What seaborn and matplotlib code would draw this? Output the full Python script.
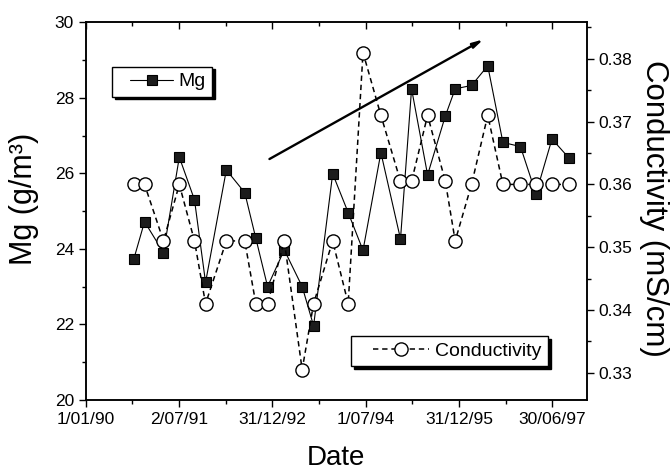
import matplotlib
matplotlib.use("Agg")

import matplotlib.pyplot as plt
import matplotlib.dates as mdates
from matplotlib.legend_handler import HandlerLine2D
from matplotlib.ticker import MultipleLocator, FormatStrFormatter
import pandas as pd
import seaborn as sns

# ── data ────────────────────────────────────────────────────
dates = ["1990-10-10", "1990-12-12", "1991-04-02", "1991-07-04", "1991-10-01",
         "1991-12-05", "1992-04-05", "1992-07-22", "1992-09-25", "1992-12-03",
         "1993-03-11", "1993-06-24", "1993-08-30", "1993-12-20", "1994-03-21",
         "1994-06-16", "1994-09-29", "1995-01-22", "1995-03-28", "1995-06-30",
         "1995-10-12", "1995-12-09", "1996-03-14", "1996-06-17", "1996-09-14",
         "1996-12-26", "1997-03-27", "1997-06-29", "1997-10-08"]

mg = [23.73, 24.72, 23.90, 26.43, 25.30, 23.11, 26.09, 25.49, 24.28, 23.00,
      23.97, 23.00, 21.96, 25.99, 24.96, 23.96, 26.55, 24.26, 28.24, 25.96,
      27.52, 28.24, 28.33, 28.85, 26.82, 26.71, 25.46, 26.91, 26.40]

cond = [0.360, 0.360, 0.351, 0.360, 0.351, 0.341, 0.351, 0.351, 0.341, 0.341,
        0.351, 0.3305, 0.341, 0.351, 0.341, 0.381, 0.371, 0.3605, 0.3605, 0.371,
        0.3605, 0.351, 0.360, 0.371, 0.360, 0.360, 0.360, 0.360, 0.360]

tick_dates = ["1990-01-01", "1991-07-02", "1992-12-31", "1994-07-01",
              "1995-12-31", "1997-06-30"]
tick_labels = ["1/01/90", "2/07/91", "31/12/92", "1/07/94", "31/12/95", "30/06/97"]

trend_start = ("1992-12-14", 26.38)
trend_end = ("1996-05-23", 29.55)

# ── style ───────────────────────────────────────────────────
sns.set_style("ticks")
plt.rcParams["font.family"] = ["Liberation Sans", "DejaVu Sans"]
plt.rcParams.update({
    "text.color": "black", "axes.labelcolor": "black",
    "xtick.color": "black", "ytick.color": "black",
    "axes.edgecolor": "black", "axes.linewidth": 1.1,
})

df = pd.DataFrame({"date": pd.to_datetime(dates), "mg": mg, "cond": cond})

fig = plt.figure(figsize=(6.7, 4.72), dpi=100)
ax = fig.add_axes([0.128, 0.153, 0.748, 0.7995])
ax2 = ax.twinx()

sns.lineplot(data=df, x="date", y="mg", ax=ax, color="k", lw=0.8,
             marker="s", markersize=7.3, markerfacecolor="#1c1c1c",
             markeredgecolor="k", markeredgewidth=0.8, label="Mg", legend=False)
sns.lineplot(data=df, x="date", y="cond", ax=ax2, color="k", lw=1.1,
             linestyle=(0, (3.5, 2.5)), marker="o", markersize=9.5,
             markerfacecolor="white", markeredgecolor="k", markeredgewidth=1.0,
             label="Conductivity", legend=False)

# trend arrow
ax.annotate("", xy=(mdates.date2num(pd.Timestamp(trend_end[0])), trend_end[1]),
            xytext=(mdates.date2num(pd.Timestamp(trend_start[0])), trend_start[1]),
            arrowprops=dict(arrowstyle="-|>,head_length=0.6,head_width=0.15",
                            color="k", lw=1.7, shrinkA=0, shrinkB=0))

# x axis
ax.set_xlim(pd.Timestamp("1990-01-01"), pd.Timestamp("1998-01-20"))
majors = pd.to_datetime(tick_dates)
minors = majors[:-1] + (majors[1:] - majors[:-1]) / 2
ax.set_xticks(majors)
ax.set_xticklabels(tick_labels)
ax.set_xticks(minors, minor=True)
ax.tick_params(axis="x", which="both", top=False, direction="out", labelsize=12.5)
ax.tick_params(axis="x", which="major", length=5, width=1)
ax.tick_params(axis="x", which="minor", length=3, width=1)

ax2.xaxis.set_visible(True)
ax2.set_xlabel("")
ax2.tick_params(axis="x", which="both", bottom=False, top=True,
                labelbottom=False, labeltop=False, direction="in", width=1)
ax2.tick_params(axis="x", which="major", length=5)
ax2.tick_params(axis="x", which="minor", length=3)

# y axes
ax.set_ylim(20, 30)
ax.yaxis.set_major_locator(MultipleLocator(2))
ax.yaxis.set_minor_locator(MultipleLocator(1))
ax.tick_params(axis="y", which="both", direction="out", labelsize=12.5, width=1)
ax.tick_params(axis="y", which="major", length=5)
ax.tick_params(axis="y", which="minor", length=3)

ax2.set_ylim(0.3257, 0.3858)
ax2.yaxis.set_major_locator(MultipleLocator(0.01))
ax2.yaxis.set_minor_locator(MultipleLocator(0.005))
ax2.yaxis.set_major_formatter(FormatStrFormatter("%.2f"))
ax2.tick_params(axis="y", which="both", direction="out", labelsize=12.5, width=1)
ax2.tick_params(axis="y", which="major", length=5)
ax2.tick_params(axis="y", which="minor", length=3)

ax.set_xlabel("Date", fontsize=20, va="top")
ax.xaxis.set_label_coords(0.5, -0.12)
ax.set_ylabel("Mg (g/m³)", fontsize=22)
ax.yaxis.set_label_coords(-0.094, 0.532)
ax2.set_ylabel("Conductivity (mS/cm)", fontsize=22.5, rotation=270, va="bottom")
ax2.yaxis.set_label_coords(1.104, 0.507)

# legends with solid drop shadow
shadow = {"color": "k", "alpha": 1}
h1 = ax.get_lines()[0]
leg1 = ax.legend(handles=[h1], loc="upper left", bbox_to_anchor=(0.053, 0.883),
                 borderaxespad=0, fancybox=False, shadow=shadow, edgecolor="k",
                 framealpha=1, fontsize=14, borderpad=0.32, handlelength=2.8,
                 handletextpad=0.3, handler_map={h1: HandlerLine2D(xpad=0.6)})
leg1.get_frame().set_linewidth(1.0)

h2 = ax2.get_lines()[0]
leg2 = ax2.legend(handles=[h2], loc="lower right", bbox_to_anchor=(0.922, 0.09),
                  borderaxespad=0, fancybox=False, shadow=shadow, edgecolor="k",
                  framealpha=1, fontsize=14, borderpad=0.32, handlelength=3.7,
                  handletextpad=0.3, handler_map={h2: HandlerLine2D(xpad=0.8)})
leg2.get_frame().set_linewidth(1.0)

fig.savefig("out.png", dpi=100)
